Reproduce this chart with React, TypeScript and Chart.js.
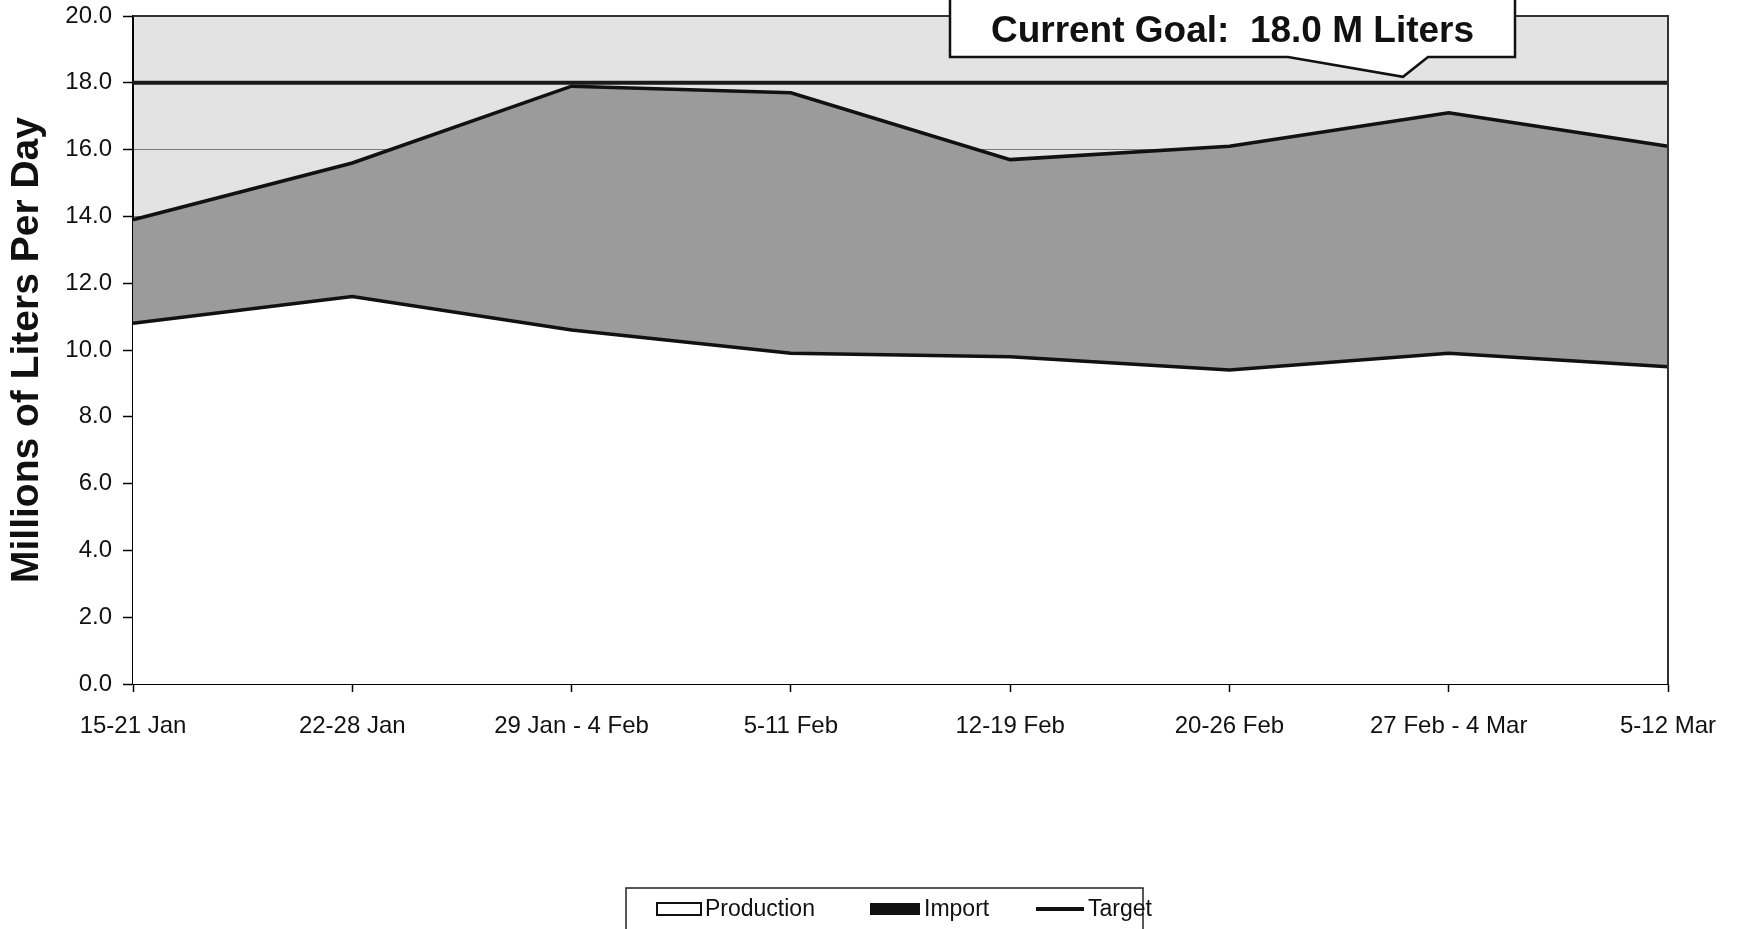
import React, { useEffect, useRef } from "react";
import { Chart, registerables } from "chart.js";

Chart.register(...registerables);

// ---------- data ----------
const categories = [
  "15-21 Jan",
  "22-28 Jan",
  "29 Jan - 4 Feb",
  "5-11 Feb",
  "12-19 Feb",
  "20-26 Feb",
  "27 Feb - 4 Mar",
  "5-12 Mar",
];
const productionValues = [10.8, 11.6, 10.6, 9.9, 9.8, 9.4, 9.9, 9.5];
const importValues = [3.1, 4.0, 7.3, 7.8, 5.9, 6.7, 7.2, 6.6];
const targetValues = [18, 18, 18, 18, 18, 18, 18, 18];
const yMin = 0;
const yMax = 20;
const yStep = 2;
const yTitle = "Millions of Liters Per Day";
const goalValue = 18;
const goalText = "Current Goal:  18.0 M Liters";
const seriesNames = ["Production", "Import", "Target"];

// ---------- styles ----------
const FONT = "'Liberation Sans', Arial, Helvetica, sans-serif";
const PLOT_BG = "#e3e3e3";
const IMPORT_FILL = "#9b9b9b";
const LINE = "#111111";

const plotBackground = {
  id: "plotBackground",
  beforeDraw(chart: any) {
    const { ctx, chartArea } = chart;
    const { left, top, right, bottom } = chartArea;
    ctx.save();
    ctx.fillStyle = PLOT_BG;
    ctx.fillRect(left, top, right - left, bottom - top);
    ctx.restore();
  },
  afterDatasetsDraw(chart: any) {
    const { ctx, chartArea } = chart;
    const { left, top, right, bottom } = chartArea;
    ctx.save();
    ctx.strokeStyle = "#333";
    ctx.lineWidth = 2;
    ctx.beginPath();
    ctx.moveTo(left, top);
    ctx.lineTo(right, top);
    ctx.lineTo(right, bottom);
    ctx.stroke();
    ctx.restore();
  },
};

const callout = {
  id: "callout",
  afterDraw(chart: any) {
    const { ctx } = chart;
    const y = chart.scales.y;
    const tipY = y.getPixelForValue(goalValue) - 6;
    const L = 950, R = 1515, B = 57, T = -10;
    ctx.save();
    ctx.beginPath();
    ctx.moveTo(L, T);
    ctx.lineTo(R, T);
    ctx.lineTo(R, B);
    ctx.lineTo(1428, B);
    ctx.lineTo(1403, tipY);
    ctx.lineTo(1288, B);
    ctx.lineTo(L, B);
    ctx.closePath();
    ctx.fillStyle = "#ffffff";
    ctx.fill();
    ctx.strokeStyle = "#111";
    ctx.lineWidth = 2.5;
    ctx.stroke();
    ctx.fillStyle = "#111";
    ctx.font = `bold 37px ${FONT}`;
    ctx.textAlign = "center";
    ctx.textBaseline = "alphabetic";
    ctx.fillText(goalText, (L + R) / 2, 42);
    ctx.restore();
  },
};

const boxLegend = {
  id: "boxLegend",
  afterDraw(chart: any) {
    const { ctx } = chart;
    const ds = chart.data.datasets;
    ctx.save();
    ctx.strokeStyle = "#222";
    ctx.lineWidth = 1.5;
    ctx.strokeRect(626, 888, 1143 - 626, 60);
    const symX = [657, 870, 1036];
    const symW = [44, 50, 48];
    const cy = 909;
    ctx.font = `23px ${FONT}`;
    ctx.textBaseline = "middle";
    ctx.textAlign = "left";
    ds.forEach((d: any, i: number) => {
      const x = symX[i];
      const w = symW[i];
      if (i === 0) {
        ctx.fillStyle = "#fff";
        ctx.fillRect(x, cy - 6, w, 12);
        ctx.strokeStyle = "#111";
        ctx.lineWidth = 2;
        ctx.strokeRect(x, cy - 6, w, 12);
      } else if (i === 1) {
        ctx.fillStyle = "#111";
        ctx.fillRect(x, cy - 6, w, 12);
      } else {
        ctx.strokeStyle = "#111";
        ctx.lineWidth = 4;
        ctx.beginPath();
        ctx.moveTo(x, cy);
        ctx.lineTo(x + w, cy);
        ctx.stroke();
      }
      ctx.fillStyle = "#111";
      ctx.fillText(d.label, x + w + 4, cy + 1);
    });
    ctx.restore();
  },
};

export default function App() {
  const canvasRef = useRef<HTMLCanvasElement | null>(null);

  useEffect(() => {
    const canvas = canvasRef.current;
    if (!canvas) return;
    const chart = new Chart(canvas, {
      type: "line",
      data: {
        labels: categories,
        datasets: [
          {
            label: seriesNames[0],
            data: productionValues,
            stack: "supply",
            fill: "origin",
            backgroundColor: "#ffffff",
            borderColor: LINE,
            borderWidth: 3.5,
            pointRadius: 0,
            tension: 0,
          },
          {
            label: seriesNames[1],
            data: importValues,
            stack: "supply",
            fill: "-1",
            backgroundColor: IMPORT_FILL,
            borderColor: LINE,
            borderWidth: 3.5,
            pointRadius: 0,
            tension: 0,
          },
          {
            label: seriesNames[2],
            data: targetValues,
            stack: "goal",
            fill: false,
            borderColor: "#1a1a1a",
            borderWidth: 4,
            pointRadius: 0,
            tension: 0,
          },
        ],
      },
      options: {
        animation: false,
        responsive: false,
        devicePixelRatio: 1,
        layout: { padding: { left: 0, top: 16, right: 69, bottom: 0 } },
        plugins: {
          legend: { display: false },
          tooltip: { enabled: false },
          filler: { drawTime: "beforeDatasetsDraw" },
        },
        scales: {
          x: {
            type: "category",
            offset: false,
            grid: {
              drawOnChartArea: false,
              drawTicks: true,
              tickLength: 8,
              tickColor: "#000",
              tickWidth: 1.5,
            },
            border: { display: true, color: "#000", width: 2 },
            ticks: {
              autoSkip: false,
              maxRotation: 0,
              minRotation: 0,
              padding: 20,
              color: "#111",
              font: { family: FONT, size: 24 },
            },
            afterFit(scale: any) {
              scale.height = 245;
              scale.paddingLeft = 0;
              scale.paddingRight = 0;
            },
          },
          y: {
            stacked: true,
            min: yMin,
            max: yMax,
            grid: {
              color: "#7a7a7a",
              lineWidth: 1,
              tickLength: 10,
              tickColor: "#000",
              tickWidth: 1.5,
            },
            border: { display: true, color: "#000", width: 2 },
            ticks: {
              stepSize: yStep,
              padding: 11,
              color: "#111",
              font: { family: FONT, size: 24 },
              callback: (v: any) => Number(v).toFixed(1),
            },
            title: {
              display: true,
              text: yTitle,
              color: "#111",
              font: { family: FONT, size: 39, weight: "bold" },
              padding: { top: 4, bottom: 0 },
            },
            afterFit(scale: any) {
              scale.width = 133;
              scale.paddingTop = 0;
              scale.paddingBottom = 0;
            },
          },
        },
      },
      plugins: [plotBackground, callout, boxLegend],
    } as any);
    return () => chart.destroy();
  }, []);

  return (
    <div
      style={{
        position: "fixed",
        left: 0,
        top: 0,
        width: 1737,
        height: 929,
        background: "#ffffff",
      }}
    >
      <canvas
        ref={canvasRef}
        width={1737}
        height={929}
        style={{ display: "block", width: 1737, height: 929 }}
      />
    </div>
  );
}
